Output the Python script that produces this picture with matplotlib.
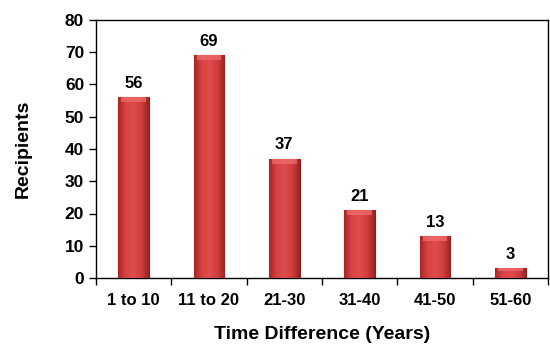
import numpy as np
import matplotlib
matplotlib.use('Agg')
import matplotlib.pyplot as plt
from matplotlib.colors import LinearSegmentedColormap

# Recipients per time-difference band
categories = ["1 to 10", "11 to 20", "21-30", "31-40", "41-50", "51-60"]
recipients = [56, 69, 37, 21, 13, 3]

plt.rcParams['font.family'] = ['Liberation Sans', 'DejaVu Sans']
plt.rcParams['font.weight'] = 'bold'

fig = plt.figure(figsize=(5.5, 3.47), dpi=100)
ax = fig.add_axes([96 / 550, 1 - 278 / 347, 452 / 550, 258 / 347])

x = np.arange(len(categories))
width = 0.41
bars = ax.bar(x, recipients, width=width, color='#d94444',
              edgecolor='#8a1f1f', linewidth=0.8, zorder=2)

# shaded fill across each bar to give it a rounded look
shade = LinearSegmentedColormap.from_list(
    'shade', ['#a82626', '#d84444', '#df4c4c', '#d23e3e', '#9c2222'])
grad = np.linspace(0, 1, 64).reshape(1, -1)
for bar in bars:
    bx, by = bar.get_x(), bar.get_y()
    bw, bh = bar.get_width(), bar.get_height()
    im = ax.imshow(grad, cmap=shade, aspect='auto', zorder=3,
                   extent=[bx, bx + bw, by, by + bh])
    im.set_clip_path(bar)
    # lighter bevel at the top edge
    cap = min(1.5, bh * 0.3)
    ax.fill_between([bx + bw * 0.1, bx + bw * 0.9], by + bh - cap, by + bh,
                    color='#f07070', alpha=0.7, zorder=4, linewidth=0)
    ax.text(bx + bw / 2, bh + 2.0, str(int(bh)), ha='center', va='bottom',
            fontsize=12, fontweight='bold', zorder=5)

ax.set_xlim(-0.5, len(categories) - 0.5)
ax.set_ylim(0, 80)
ax.set_yticks(range(0, 81, 10))
ax.set_xticks(x)
ax.set_xticklabels(categories)
ax.set_xticks(np.arange(-0.5, len(categories), 1), minor=True)
ax.tick_params(axis='x', which='major', length=0, pad=11, labelsize=12)
ax.tick_params(axis='x', which='minor', length=5, direction='out', width=1)
ax.tick_params(axis='y', length=5, direction='out', width=1, labelsize=12.5)
for s in ax.spines.values():
    s.set_linewidth(1)
    s.set_color('black')

ax.set_ylabel('Recipients', fontsize=14, fontweight='bold', labelpad=24)
ax.set_xlabel('Time Difference (Years)', fontsize=14, fontweight='bold',
              labelpad=13)

fig.savefig('out.png', dpi=100)
